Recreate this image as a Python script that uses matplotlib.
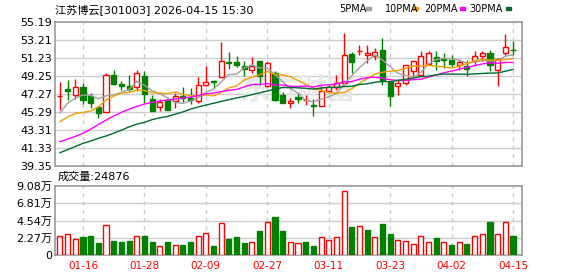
import matplotlib
matplotlib.use("Agg")
import matplotlib.pyplot as plt
from matplotlib.patches import Rectangle

plt.rcParams["font.family"] = ["DejaVu Sans", "Noto Sans CJK SC"]

dates = ["01-13", "01-14", "01-15", "01-16", "01-19", "01-20", "01-21", "01-22", "01-23", "01-26",
         "01-27", "01-28", "01-29", "01-30", "02-02", "02-03", "02-04", "02-05", "02-06", "02-09",
         "02-10", "02-11", "02-12", "02-13", "02-24", "02-25", "02-26", "02-27", "03-02", "03-03",
         "03-04", "03-05", "03-06", "03-09", "03-10", "03-11", "03-12", "03-13", "03-16", "03-17",
         "03-18", "03-19", "03-20", "03-23", "03-24", "03-25", "03-26", "03-27", "03-30", "03-31",
         "04-01", "04-02", "04-03", "04-07", "04-08", "04-09", "04-10", "04-13", "04-14", "04-15"]

opens = [47.00, 47.82, 47.19, 48.01, 47.02, 45.81, 45.26, 49.33, 48.37, 48.12,
         48.01, 49.22, 46.72, 45.81, 46.64, 46.47, 47.08, 46.83, 46.47, 48.29,
         48.70, 49.11, 50.79, 50.79, 50.38, 49.94, 50.87, 48.12, 49.58, 47.13,
         46.28, 46.91, 46.58, 46.03, 45.92, 47.63, 48.01, 48.48, 51.67, 51.97,
         51.59, 51.42, 52.14, 48.59, 48.12, 48.48, 49.83, 49.39, 50.57, 51.31,
         51.16, 51.01, 50.49, 50.32, 50.87, 51.42, 51.78, 49.88, 51.78, 52.16]
highs = [48.62, 48.84, 48.92, 48.48, 47.38, 45.92, 49.58, 49.88, 48.73, 49.39,
         49.94, 49.77, 47.19, 46.75, 46.75, 47.38, 48.01, 47.93, 49.11, 50.38,
         48.84, 52.99, 51.89, 51.42, 50.87, 51.31, 50.87, 50.87, 49.77, 47.46,
         46.83, 47.38, 47.19, 46.72, 48.12, 48.29, 49.39, 53.98, 51.89, 52.69,
         52.69, 52.33, 53.43, 48.67, 48.84, 50.49, 50.93, 52.03, 52.03, 51.97,
         51.78, 51.53, 51.04, 51.04, 51.97, 52.03, 52.14, 51.23, 53.87, 53.13]
lows = [45.51, 46.64, 46.72, 46.17, 45.73, 44.63, 45.26, 48.23, 47.68, 47.57,
        47.57, 46.28, 45.37, 45.37, 45.48, 45.73, 46.39, 46.17, 46.28, 48.12,
        47.93, 49.03, 50.05, 50.21, 49.22, 49.58, 48.29, 48.01, 46.53, 46.28,
        45.73, 46.28, 46.03, 44.82, 45.92, 47.38, 47.74, 48.29, 49.58, 51.59,
        50.68, 51.04, 48.29, 45.92, 47.19, 48.29, 49.22, 49.22, 50.49, 49.94,
        50.13, 50.21, 49.94, 49.22, 50.49, 50.87, 49.77, 48.12, 51.59, 51.59]
closes = [47.02, 47.63, 48.01, 46.64, 46.28, 45.18, 49.33, 48.40, 48.12, 47.82,
          49.58, 47.27, 45.43, 46.39, 45.54, 47.02, 46.86, 46.64, 48.23, 48.59,
          48.55, 50.87, 50.68, 50.43, 50.05, 50.32, 49.22, 50.68, 46.64, 46.28,
          46.53, 46.72, 46.64, 45.92, 47.63, 48.01, 48.48, 51.53, 50.76, 52.03,
          51.75, 51.89, 48.67, 47.02, 48.48, 50.43, 50.87, 51.42, 51.78, 50.87,
          51.05, 50.57, 50.76, 50.05, 51.42, 51.78, 50.43, 51.12, 52.41, 52.10]
# volume in 万 shares
volumes = [2.50, 2.72, 2.06, 2.37, 2.50, 1.58, 3.95, 1.84, 1.71, 1.84,
           2.50, 2.50, 1.71, 1.14, 1.71, 1.27, 1.32, 1.71, 2.50, 2.90,
           1.18, 4.21, 2.10, 2.37, 1.58, 1.71, 3.16, 4.34, 5.00, 3.16,
           1.71, 1.58, 1.71, 1.18, 2.37, 1.97, 2.37, 8.42, 3.68, 3.82,
           3.29, 2.37, 4.08, 2.76, 1.97, 1.84, 1.45, 2.50, 1.71, 2.24,
           1.71, 1.32, 1.71, 1.45, 2.50, 2.76, 4.34, 2.76, 4.34, 2.49]

ma5 = [45.18, 46.28, 46.83, 47.16, 47.12, 46.75, 47.09, 47.17, 47.46, 47.77,
       48.65, 48.24, 47.64, 47.30, 46.84, 46.33, 46.25, 46.49, 46.86, 47.47,
       47.80, 48.60, 49.41, 49.45, 50.14, 50.47, 50.14, 50.14, 49.38, 48.63,
       47.87, 47.37, 46.56, 46.42, 46.69, 46.98, 47.34, 48.31, 49.28, 50.16,
       50.91, 51.59, 51.02, 50.27, 49.56, 49.30, 49.09, 49.64, 50.60, 51.07,
       51.20, 51.14, 51.01, 50.66, 50.77, 50.92, 50.89, 50.96, 51.43, 51.57]
ma10 = [44.23, 44.74, 45.13, 45.24, 45.40, 45.84, 46.61, 47.05, 47.38, 47.44,
        47.70, 47.66, 47.41, 47.38, 47.31, 47.49, 47.24, 47.07, 47.08, 47.16,
        47.06, 47.42, 47.95, 48.15, 48.80, 49.13, 49.37, 49.77, 49.42, 49.38,
        49.17, 48.76, 48.35, 47.90, 47.66, 47.43, 47.35, 47.44, 47.85, 48.43,
        48.95, 49.46, 49.67, 49.78, 49.86, 50.10, 50.34, 50.33, 50.43, 50.32,
        50.25, 50.12, 50.33, 50.63, 50.92, 51.06, 51.01, 50.98, 51.05, 51.17]
ma20 = [42.02, 42.30, 42.60, 42.95, 43.40, 43.90, 44.40, 44.85, 45.25, 45.60,
        45.90, 46.17, 46.35, 46.50, 46.61, 46.72, 46.82, 46.94, 47.10, 47.30,
        47.38, 47.54, 47.68, 47.77, 48.06, 48.31, 48.31, 48.42, 48.25, 48.27,
        48.12, 48.09, 48.15, 48.03, 48.23, 48.28, 48.36, 48.61, 48.63, 48.90,
        49.06, 49.11, 49.01, 48.84, 48.76, 48.77, 48.85, 48.89, 49.14, 49.37,
        49.60, 49.79, 50.00, 50.20, 50.39, 50.58, 50.68, 50.66, 50.74, 50.74]
ma30 = [40.81, 41.15, 41.50, 41.84, 42.10, 42.40, 42.65, 42.95, 43.30, 43.65,
        43.95, 44.15, 44.45, 44.65, 44.80, 45.05, 45.30, 45.60, 45.85, 46.05,
        46.25, 46.45, 46.65, 46.83, 47.00, 47.20, 47.40, 47.60, 47.80, 47.99,
        47.98, 47.95, 47.90, 47.81, 47.92, 48.02, 47.99, 48.09, 48.11, 48.32,
        48.39, 48.55, 48.66, 48.61, 48.77, 48.89, 49.02, 49.18, 49.23, 49.38,
        49.46, 49.45, 49.45, 49.44, 49.48, 49.53, 49.57, 49.58, 49.78, 49.97]

price_ticks = [39.35, 41.33, 43.31, 45.29, 47.27, 49.25, 51.23, 53.21, 55.19]
vol_ticks = [0, 2.27, 4.54, 6.81, 9.08]
vol_tick_labels = ["0", "2.27万", "4.54万", "6.81万", "9.08万"]
label_dates = ["01-16", "01-28", "02-09", "02-27", "03-11", "03-23", "04-02", "04-15"]

title = "江苏博云[301003] 2026-04-15 15:30"
ma_names = ["5PMA", "10PMA", "20PMA", "30PMA"]
last_volume = 24876

RED = "#ff0000"
GREEN = "#008000"
MA_COLORS = ["#a0a0a0", "#f0a000", "#ff00ff", "#006b2e"]
GRID = "#cccccc"
FRAME = "#999999"

W, H = 578, 276
fig = plt.figure(figsize=(W / 100, H / 100), dpi=100)
ax = fig.add_axes([55 / W, 1 - 166 / H, 467 / W, 144 / H])
axv = fig.add_axes([55 / W, 1 - 255 / H, 467 / W, 69 / H])

n = len(closes)
xs = list(range(n))
tick_pos = [dates.index(d) for d in label_dates]

for a in (ax, axv):
    a.set_xlim(-0.646, 60.17)
    for s in a.spines.values():
        s.set_color(FRAME)
        s.set_linewidth(1.2)
    a.tick_params(length=0, labelsize=8, pad=2)
    for p in tick_pos:
        a.axvline(p, color=GRID, lw=1, ls=(0, (3, 3)), zorder=0)

# price panel
ax.set_ylim(price_ticks[0], price_ticks[-1])
ax.set_yticks(price_ticks)
ax.set_xticks([])
for t in price_ticks[1:-1]:
    ax.axhline(t, color=GRID, lw=1, zorder=0)

ax.text(0.52, 0.53, "东方财富", transform=ax.transAxes, ha="center", va="center",
        fontsize=21, fontweight="bold", color="#e8e8e8", family=["Noto Sans CJK SC"], zorder=0.5)

for i in xs:
    up = closes[i] >= opens[i]
    col = RED if up else GREEN
    ax.vlines(i, lows[i], highs[i], color=col, lw=1, zorder=2)
    bottom = min(opens[i], closes[i])
    h = max(abs(closes[i] - opens[i]), 0.06)
    ax.bar(i, h, bottom=bottom, width=0.66, facecolor="white" if up else col,
           edgecolor=col, lw=1, zorder=3)

for ma, c in zip([ma5, ma10, ma20, ma30], MA_COLORS):
    ax.plot(xs, ma, color=c, lw=1, zorder=4)

# volume panel: colour by change against previous close
axv.set_ylim(0, vol_ticks[-1])
axv.set_yticks(vol_ticks)
axv.set_yticklabels(vol_tick_labels)
for t in vol_ticks[1:-1]:
    axv.axhline(t, color=GRID, lw=1, zorder=0)
for i in xs:
    ref = closes[i - 1] if i > 0 else opens[i]
    up = closes[i] >= ref
    col = RED if up else GREEN
    axv.bar(i, volumes[i], width=0.66, facecolor="white" if up else col,
            edgecolor=col, lw=1, zorder=3)
axv.set_xticks(tick_pos)
axv.set_xticklabels(label_dates, color=RED, fontsize=7.5)
axv.tick_params(axis="x", pad=4)

# header texts
fig.text(55 / W, 1 - 10 / H, title, fontsize=8, va="center", ha="left")
legend_x = [339, 385, 424, 469]
dash_x = [366, 413, 460, 506]
for name, lx, dx, c in zip(ma_names, legend_x, dash_x, MA_COLORS):
    fig.text(lx / W, 1 - 9 / H, name, fontsize=7, va="center", ha="left")
    fig.patches.append(Rectangle((dx / W, 1 - 10 / H), 5 / W, 3 / H,
                                 transform=fig.transFigure, color=c))
fig.text(58 / W, 1 - 177 / H, "成交量:" + str(last_volume), fontsize=8, va="center", ha="left")

fig.savefig("out.png", dpi=100)
